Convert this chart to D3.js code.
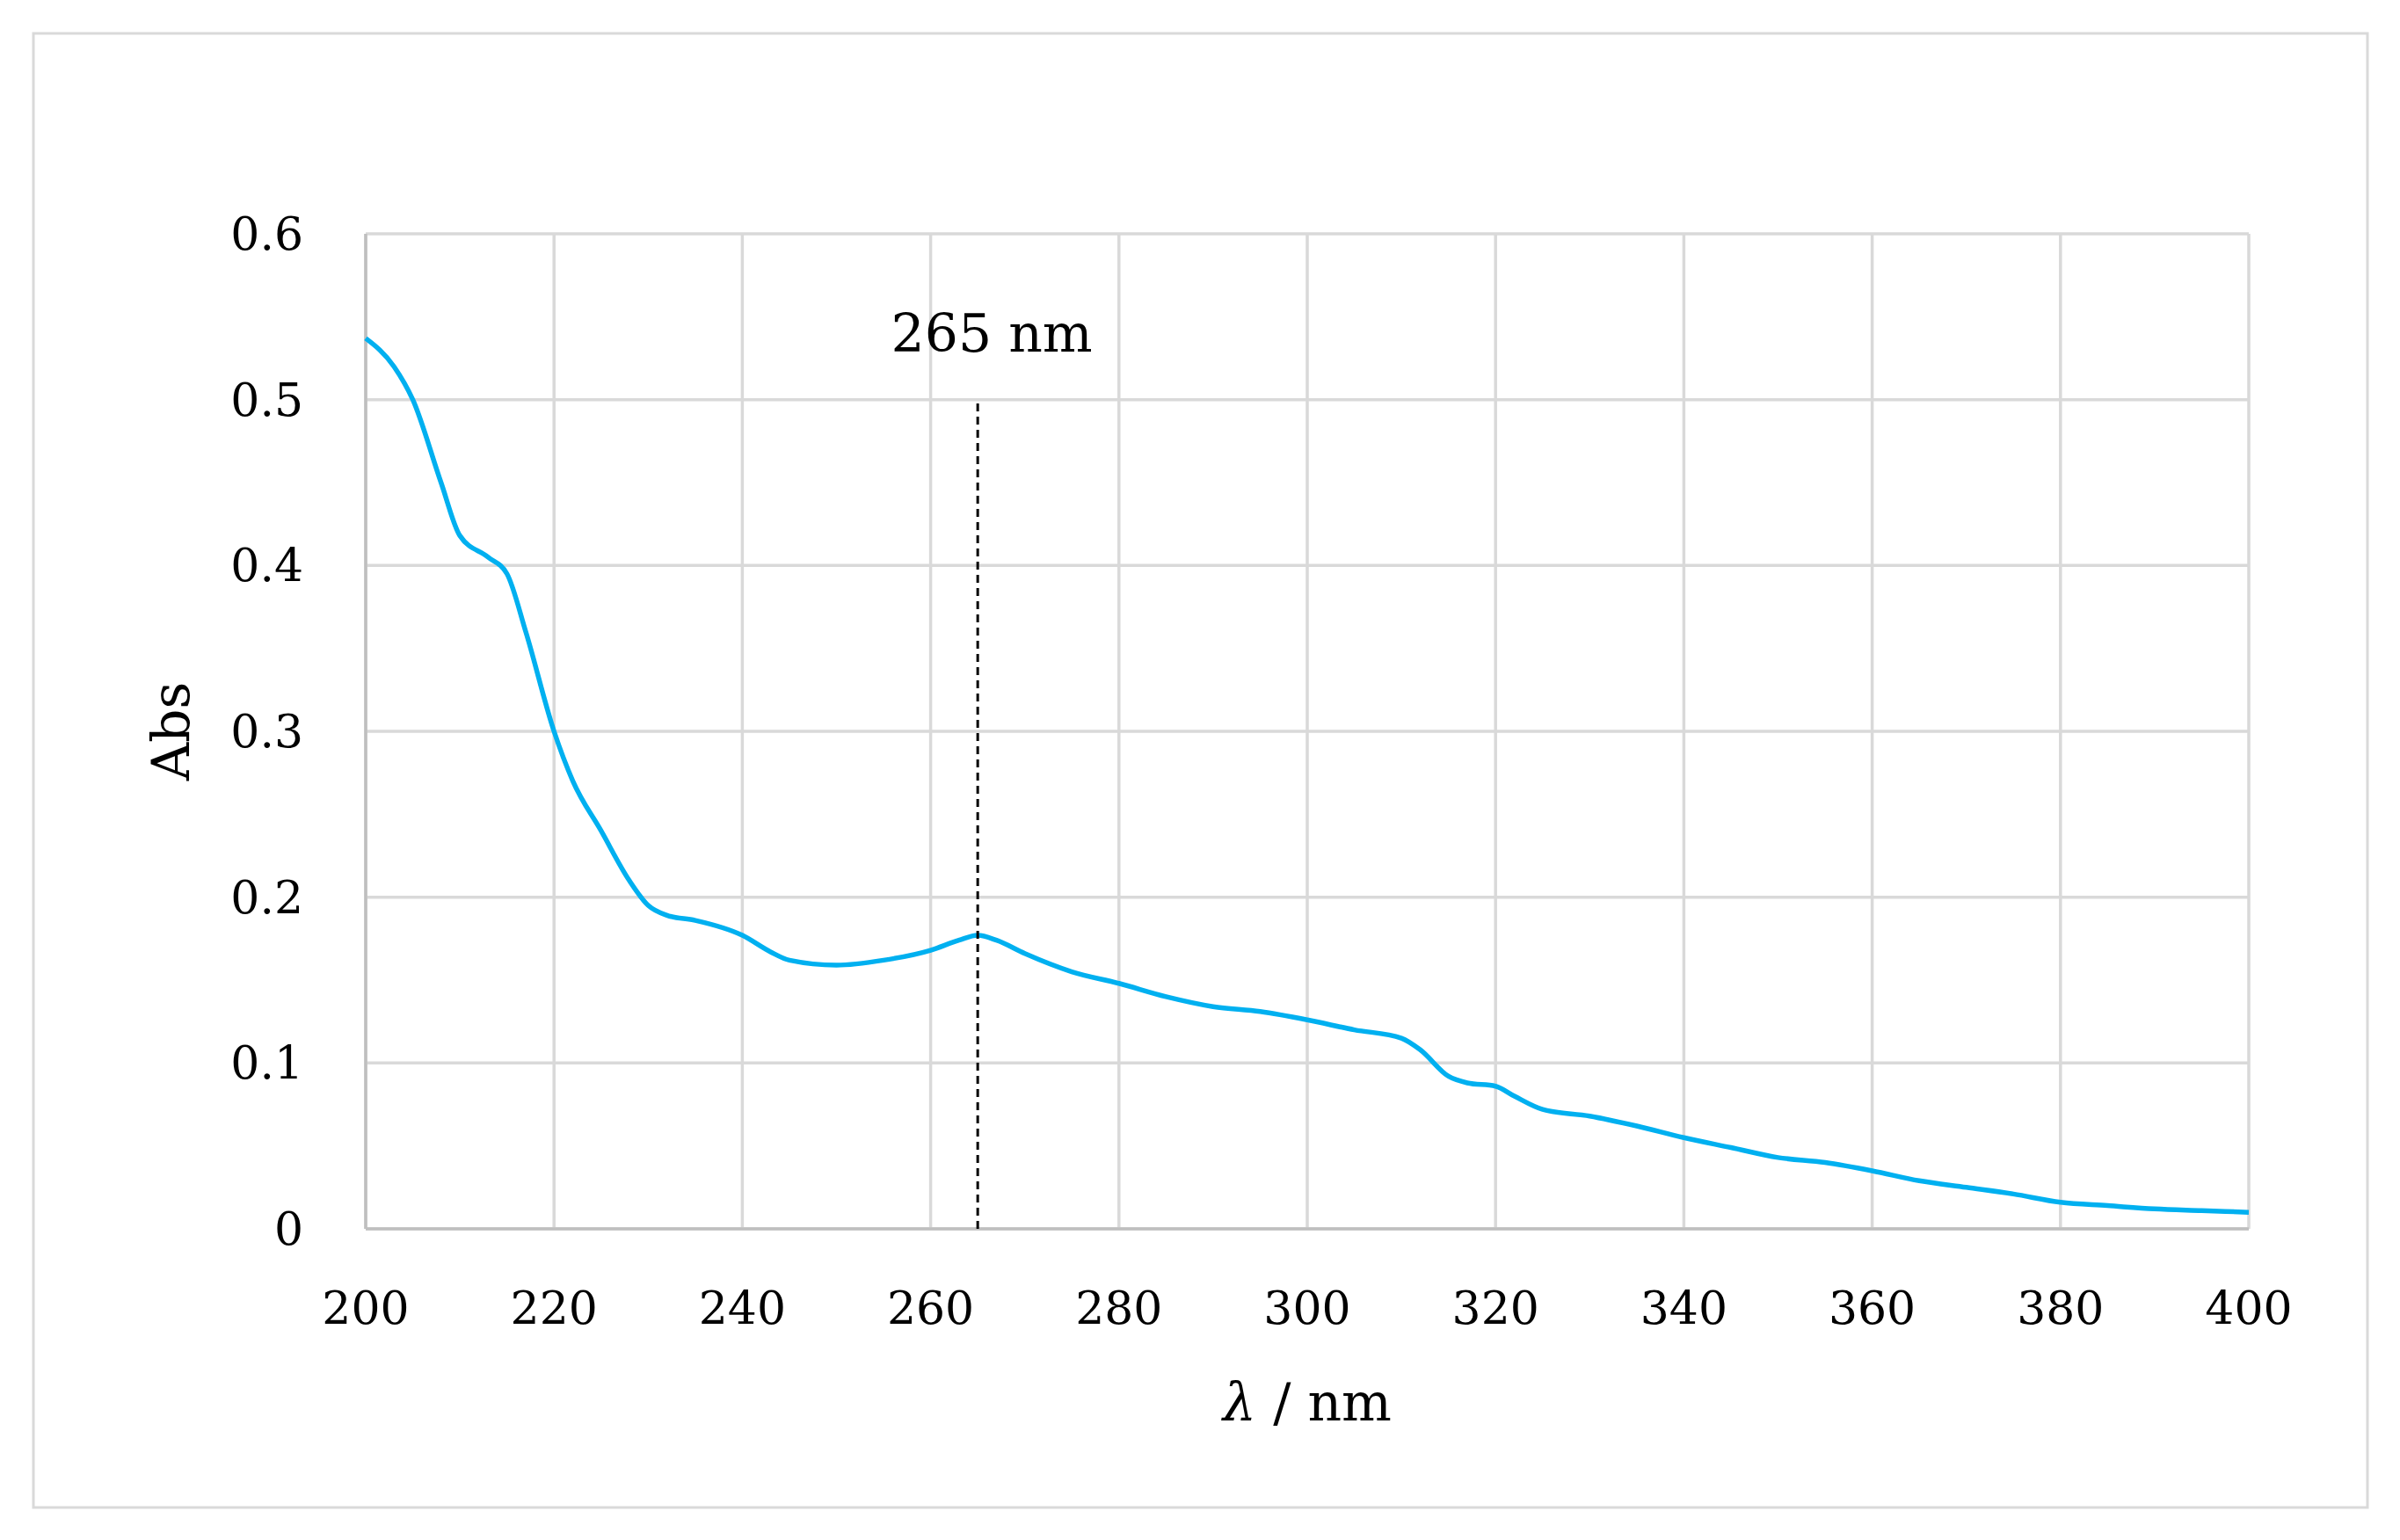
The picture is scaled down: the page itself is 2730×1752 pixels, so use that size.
<!DOCTYPE html>
<html><head><meta charset="utf-8">
<script src="https://cdn.jsdelivr.net/npm/d3@7"></script>
<style>body{margin:0;background:#fff}text{font-family:"DejaVu Serif","Liberation Serif",serif;fill:#000}</style>
</head><body><svg id="c" width="2730" height="1752"></svg>
<script>
const wavelength=[200,203,205,208,210,213,215,217,220,222,225,228,230,232,235,240,243,245,250,255,260,263,265,267,270,275,280,285,290,295,300,305,310,312,315,317,320,322,325,330,335,340,345,350,355,360,365,370,375,380,385,390,395,400];
const absorbance=[0.537,0.52,0.50,0.45,0.418,0.405,0.395,0.36,0.30,0.27,0.24,0.21,0.195,0.189,0.186,0.177,0.167,0.162,0.159,0.162,0.168,0.174,0.177,0.174,0.166,0.155,0.148,0.140,0.134,0.131,0.126,0.120,0.115,0.108,0.092,0.088,0.086,0.080,0.072,0.068,0.062,0.055,0.049,0.043,0.040,0.035,0.029,0.025,0.021,0.016,0.014,0.012,0.011,0.010];
const xTicks=[200,220,240,260,280,300,320,340,360,380,400];
const yTicks=[0,0.1,0.2,0.3,0.4,0.5,0.6];
const peak=265;
const svg=d3.select("#c");
svg.append("rect").attr("x",38).attr("y",38).attr("width",2655).attr("height",1677).attr("fill","none").attr("stroke","#d9d9d9").attr("stroke-width",3);
const x=d3.scaleLinear().domain([200,400]).range([416,2558]);
const y=d3.scaleLinear().domain([0,0.6]).range([1398,266]);
const g=svg.append("g");
g.selectAll(".vx").data(xTicks).join("line").attr("x1",d=>x(d)).attr("x2",d=>x(d)).attr("y1",y(0)).attr("y2",y(0.6)).attr("stroke","#d9d9d9").attr("stroke-width",3.5);
g.selectAll(".hy").data(yTicks).join("line").attr("x1",x(200)).attr("x2",x(400)).attr("y1",d=>y(d)).attr("y2",d=>y(d)).attr("stroke","#d9d9d9").attr("stroke-width",3.5);
g.append("line").attr("x1",x(200)).attr("x2",x(200)).attr("y1",y(0)).attr("y2",y(0.6)).attr("stroke","#bfbfbf").attr("stroke-width",3.5);
g.append("line").attr("x1",x(200)).attr("x2",x(400)).attr("y1",y(0)).attr("y2",y(0)).attr("stroke","#bfbfbf").attr("stroke-width",3.5);
g.selectAll(".xl").data(xTicks).join("text").attr("x",d=>x(d)).attr("y",1506).attr("text-anchor","middle").attr("font-size",52).text(d=>d);
g.selectAll(".yl").data(yTicks).join("text").attr("x",345).attr("y",d=>y(d)+18).attr("text-anchor","end").attr("font-size",52).text(d=>d);
svg.append("path").datum(wavelength.map((w,i)=>[w,absorbance[i]])).attr("fill","none").attr("stroke","#00B0F0").attr("stroke-width",5.5)
 .attr("d",d3.line().x(d=>x(d[0])).y(d=>y(d[1])).curve(d3.curveMonotoneX));
svg.append("line").attr("x1",x(peak)).attr("x2",x(peak)).attr("y1",y(0)).attr("y2",y(0.5)).attr("stroke","#000").attr("stroke-width",3).attr("stroke-dasharray","9,6");
svg.append("text").attr("x",x(peak)+16).attr("y",400).attr("text-anchor","middle").attr("font-size",60).text(peak+" nm");
svg.append("text").attr("transform","translate(215,832) rotate(-90)").attr("text-anchor","middle").attr("font-size",60).text("Abs");
svg.append("text").attr("x",x(300)).attr("y",1616).attr("text-anchor","middle").attr("font-size",60).html("<tspan font-style='italic'>λ</tspan> / nm");
</script></body></html>
